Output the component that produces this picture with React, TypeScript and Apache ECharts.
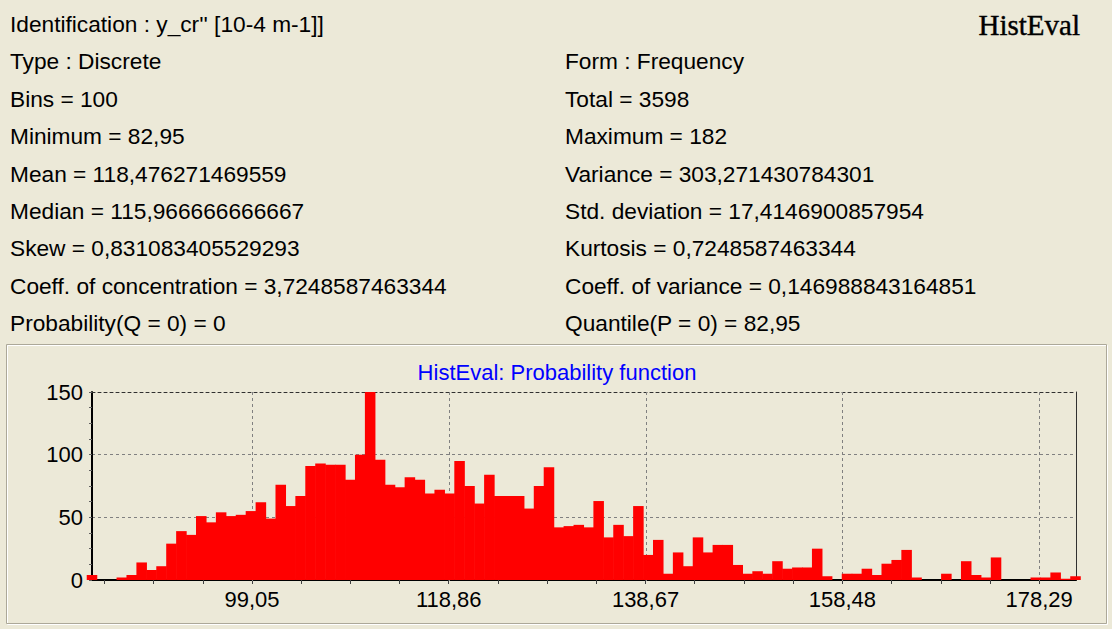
import React, { useEffect, useRef } from "react";
import * as echarts from "echarts";

const leftLines = [
  "Identification : y_cr'' [10-4 m-1]]",
  "Type : Discrete",
  "Bins = 100",
  "Minimum = 82,95",
  "Mean = 118,476271469559",
  "Median = 115,966666666667",
  "Skew = 0,831083405529293",
  "Coeff. of concentration = 3,7248587463344",
  "Probability(Q = 0) = 0",
];
const rightLines = [
  "",
  "Form : Frequency",
  "Total = 3598",
  "Maximum = 182",
  "Variance = 303,271430784301",
  "Std. deviation = 17,4146900857954",
  "Kurtosis = 0,7248587463344",
  "Coeff. of variance = 0,146988843164851",
  "Quantile(P = 0) = 82,95",
];
const appTitle = "HistEval";
const chartTitle = "HistEval: Probability function";

const xMin = 82.95;
const xMax = 182;
const binStep = 1;

const counts = [
  4, 0, 0, 2, 4, 14, 8, 11, 29, 39,
  36, 51, 46, 54, 51, 52, 55, 62, 49, 76,
  59, 67, 91, 93, 92, 92, 80, 100, 150, 96,
  76, 74, 82, 80, 69, 72, 69, 95, 75, 61,
  84, 67, 67, 67, 57, 75, 90, 42, 43, 44,
  42, 63, 34, 44, 35, 59, 20, 32, 5, 22,
  11, 34, 22, 28, 28, 12, 5, 7, 5, 15,
  9, 10, 10, 25, 3, 0, 5, 5, 9, 4,
  13, 16, 24, 2, 0, 0, 5, 0, 15, 4,
  2, 18, 0, 0, 0, 2, 2, 6, 1, 3,
];

const majorTicks = [99.05, 118.86, 138.67, 158.48, 178.29];
const minorTicks = [
  84.15, 89.1, 94.1, 104.0, 108.96, 113.91, 123.81, 128.77, 133.72,
  143.62, 148.58, 153.53, 163.43, 168.39, 173.34,
];
const yMin = 0;
const yMax = 150;
const yStep = 50;

const W = 1112;
const H = 629;
const GRID = { left: 92, top: 392, width: 984, height: 188 };
const FONT = '"Liberation Sans", Arial, sans-serif';

export default function App() {
  const ref = useRef<HTMLDivElement>(null);

  useEffect(() => {
    if (!ref.current) return;
    const chart = echarts.init(ref.current, undefined, { renderer: "svg" });

    const binCenters = counts.map((_, i) => +(xMin + i * binStep).toFixed(2));
    const barData = counts.map((c, i) => [binCenters[i], c]);
    const barPx = (GRID.width / (xMax - xMin)) * binStep;

    const lineY0 = 23.7;
    const lineGap = 37.45;
    const texts: any[] = [];
    const infoFont = `22.7px ${FONT}`;
    leftLines.forEach((t, i) => {
      texts.push({
        type: "text",
        x: 10,
        y: lineY0 + i * lineGap,
        style: {
          text: t,
          fill: "#000",
          font: infoFont,
          align: "left",
          verticalAlign: "middle",
        },
      });
    });
    rightLines.forEach((t, i) => {
      if (!t) return;
      texts.push({
        type: "text",
        x: 565,
        y: lineY0 + i * lineGap,
        style: {
          text: t,
          fill: "#000",
          font: infoFont,
          align: "left",
          verticalAlign: "middle",
        },
      });
    });
    texts.push({
      type: "text",
      x: 1080,
      y: 25,
      style: {
        text: appTitle,
        fill: "#000",
        stroke: "#000",
        lineWidth: 0.4,
        font: `29px "Liberation Serif", "Times New Roman", serif`,
        align: "right",
        verticalAlign: "middle",
      },
    });
    texts.push({
      type: "text",
      x: 557,
      y: 372.5,
      style: {
        text: chartTitle,
        fill: "#0000FF",
        font: `22px ${FONT}`,
        align: "center",
        verticalAlign: "middle",
      },
    });
    // etched panel border
    texts.push({
      type: "rect",
      shape: { x: 7.5, y: 345.5, width: 1100, height: 279 },
      style: { fill: "none", stroke: "#FFFFFF", lineWidth: 1 },
      silent: true,
    });
    texts.push({
      type: "rect",
      shape: { x: 6.5, y: 344.5, width: 1100, height: 279 },
      style: { fill: "none", stroke: "#ACA899", lineWidth: 1 },
      silent: true,
    });

    const fmt = (v: number) => v.toFixed(2).replace(".", ",");

    chart.setOption({
      animation: false,
      backgroundColor: "#ECE9D8",
      graphic: { elements: texts },
      grid: { ...GRID, containLabel: false },
      xAxis: [
        {
          type: "value",
          min: xMin,
          max: xMax,
          axisLine: { show: true, onZero: false, lineStyle: { color: "#000", width: 2 } },
          axisTick: {
            show: true,
            customValues: [...majorTicks, ...minorTicks].sort((a, b) => a - b),
            length: 4,
            lineStyle: { color: "#404040", width: 1 },
          },
          axisLabel: {
            show: true,
            customValues: majorTicks,
            formatter: (v: number) => fmt(v),
            color: "#000",
            fontFamily: FONT,
            fontSize: 22,
            margin: 8,
          },
          splitLine: { show: false },
        },
        {
          type: "value",
          position: "top",
          min: xMin,
          max: xMax,
          axisLine: { show: true, onZero: false, lineStyle: { color: "#303030", width: 1, type: [3, 3] } },
          axisTick: { show: false },
          axisLabel: { show: false },
          splitLine: { show: false },
        },
      ],
      yAxis: [
        {
          type: "value",
          min: yMin,
          max: yMax,
          interval: yStep,
          axisLine: { show: true, onZero: false, lineStyle: { color: "#000", width: 2 } },
          axisTick: { show: true, length: 3, lineStyle: { color: "#606060" } },
          minorTick: { show: true, splitNumber: 4, length: 3, lineStyle: { color: "#606060" } },
          axisLabel: {
            color: "#000",
            fontFamily: FONT,
            fontSize: 22,
            margin: 9,
          },
          splitLine: {
            show: true,
            lineStyle: { color: "#808080", width: 1, type: [3, 3] },
          },
        },
        {
          type: "value",
          position: "right",
          min: yMin,
          max: yMax,
          interval: yStep,
          axisLine: { show: true, onZero: false, lineStyle: { color: "#303030", width: 1 } },
          axisTick: { show: false },
          axisLabel: { show: false },
          splitLine: { show: false },
        },
      ],
      series: [
        {
          type: "custom",
          z: 1,
          silent: true,
          xAxisIndex: 0,
          yAxisIndex: 0,
          data: majorTicks.map((v) => [v, 0]),
          encode: { x: 0, y: 1 },
          renderItem: (params: any, api: any) => {
            const cs = params.coordSys;
            const x = Math.round(api.coord([api.value(0), 0])[0]) + 0.5;
            return {
              type: "line",
              shape: { x1: x, y1: cs.y, x2: x, y2: cs.y + cs.height + 4 },
              style: { stroke: "#808080", lineWidth: 1, lineDash: [3, 3] },
            };
          },
        },
        {
          type: "bar",
          z: 2,
          xAxisIndex: 0,
          yAxisIndex: 0,
          data: barData,
          barWidth: barPx + 0.6,
          clip: true,
          itemStyle: { color: "#FF0000", borderWidth: 0 },
          emphasis: { disabled: true },
        },
      ],
    });

    return () => chart.dispose();
  }, []);

  return (
    <div
      ref={ref}
      style={{ position: "fixed", left: 0, top: 0, width: W, height: H }}
    />
  );
}
